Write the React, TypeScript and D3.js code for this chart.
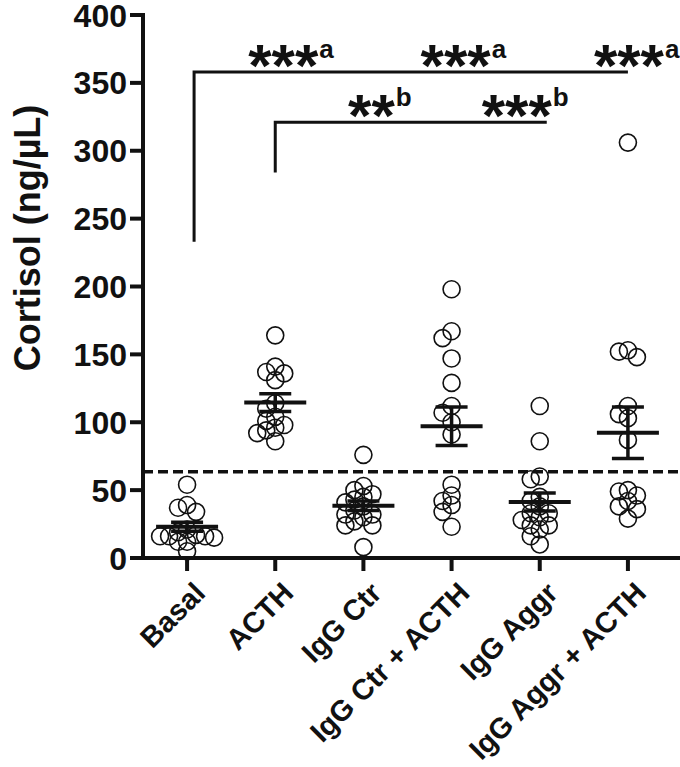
import React from 'react';
import * as d3 from 'd3';

const categories = ['Basal', 'ACTH', 'IgG Ctr', 'IgG Ctr + ACTH', 'IgG Aggr', 'IgG Aggr + ACTH'];
const basal = [54, 39, 37, 34, 21, 19, 17, 16, 16, 16, 15, 12, 12, 5];
const acth = [164, 141, 137, 136, 131, 114, 110, 104, 101, 98, 96, 94, 92, 86];
const iggCtr = [76, 53, 50, 47, 45, 43, 41, 38, 35, 32, 32, 30, 27, 24, 24, 8];
const iggCtrActh = [198, 167, 162, 147, 129, 112, 107, 100, 91, 54, 46, 42, 39, 34, 23];
const iggAggr = [112, 86, 60, 58, 45, 42, 38, 33, 33, 30, 28, 24, 24, 21, 16, 10];
const iggAggrActh = [306, 153, 152, 148, 112, 106, 103, 87, 50, 49, 46, 42, 38, 36, 29];
const groupValues = [basal, acth, iggCtr, iggCtrActh, iggAggr, iggAggrActh];
const means = [23, 114.5, 38.5, 97, 41.3, 92.3];
const sems = [3.3, 6.5, 3.5, 14.2, 6.6, 19];
const yTicks = [0, 50, 100, 150, 200, 250, 300, 350, 400];
const thresholdValue = 63.5;
const yTitle = 'Cortisol (ng/µL)';

const brackets = [
  { from: 'Basal', to: 'IgG Aggr + ACTH', level: 358, leg: 233 },
  { from: 'ACTH', to: 'IgG Aggr', level: 321, leg: 284 },
];
const sigMarks = [
  { group: 'ACTH', level: 358, stars: '***', sup: 'a', shift: 8 },
  { group: 'IgG Ctr + ACTH', level: 358, stars: '***', sup: 'a', shift: 4 },
  { group: 'IgG Aggr + ACTH', level: 358, stars: '***', sup: 'a', shift: 1 },
  { group: 'IgG Ctr', level: 321, stars: '**', sup: 'b', shift: 8 },
  { group: 'IgG Aggr', level: 321, stars: '***', sup: 'b', shift: -23 },
];

const W = 680;
const H = 767;
const FONT = '"Liberation Sans", Arial, Helvetica, sans-serif';
const INK = '#111';

const y = d3.scaleLinear().domain([0, 400]).range([558, 15]);
const x = d3.scaleBand<string>().domain(categories).range([143, 672]).padding(0);
const cx = (c: string) => (x(c) as number) + x.bandwidth() / 2;

function swarm(vals: number[], center: number) {
  const placed: { x: number; y: number }[] = [];
  const step = 9;
  const minD = 8.5;
  for (const v of vals) {
    const py = y(v);
    let best = { x: center, y: py };
    for (let k = 0; k < 30; k++) {
      const off = k === 0 ? 0 : (k % 2 ? -1 : 1) * Math.ceil(k / 2) * step;
      const px = center + off;
      if (placed.every((p) => Math.hypot(p.x - px, p.y - py) >= minD)) {
        best = { x: px, y: py };
        break;
      }
    }
    placed.push(best);
  }
  return placed;
}

export default function App() {
  const starSize = 60;
  const supSize = 26;
  return (
    <svg width={W} height={H} style={{ position: 'absolute', left: 0, top: 0, background: '#fff' }}>
      <rect x={0} y={0} width={W} height={H} fill="#fff" />
      {/* threshold dashed line */}
      <line
        x1={143}
        x2={680}
        y1={y(thresholdValue)}
        y2={y(thresholdValue)}
        stroke={INK}
        strokeWidth={3.5}
        strokeDasharray="10 5"
      />
      {/* points */}
      {groupValues.map((vals, gi) =>
        swarm(vals, cx(categories[gi])).map((p, i) => (
          <circle key={`${gi}-${i}`} cx={p.x} cy={p.y} r={8.5} fill="none" stroke={INK} strokeWidth={1.6} />
        ))
      )}
      {/* mean and SEM */}
      {categories.map((c, i) => {
        const X = cx(c);
        return (
          <g key={c} stroke={INK}>
            <line x1={X} x2={X} y1={y(means[i] + sems[i])} y2={y(means[i] - sems[i])} strokeWidth={3.5} />
            <line x1={X - 16} x2={X + 16} y1={y(means[i] + sems[i])} y2={y(means[i] + sems[i])} strokeWidth={3.5} />
            <line x1={X - 16} x2={X + 16} y1={y(means[i] - sems[i])} y2={y(means[i] - sems[i])} strokeWidth={3.5} />
            <line x1={X - 31} x2={X + 31} y1={y(means[i])} y2={y(means[i])} strokeWidth={4} />
          </g>
        );
      })}
      {/* axes */}
      <line x1={143} x2={143} y1={13} y2={560} stroke={INK} strokeWidth={4} />
      <line x1={141} x2={680} y1={558} y2={558} stroke={INK} strokeWidth={4} />
      {yTicks.map((t) => (
        <g key={t}>
          <line x1={130} x2={143} y1={y(t)} y2={y(t)} stroke={INK} strokeWidth={4} />
          <text
            x={127}
            y={y(t)}
            dy="0.36em"
            textAnchor="end"
            fontFamily={FONT}
            fontWeight="bold"
            fontSize={32}
            fill={INK}
          >
            {t}
          </text>
        </g>
      ))}
      {categories.map((c) => (
        <g key={c}>
          <line x1={cx(c)} x2={cx(c)} y1={558} y2={571} stroke={INK} strokeWidth={4} />
          <text
            transform={`translate(${cx(c) + 5},${580}) rotate(-45)`}
            dy="0.72em"
            textAnchor="end"
            fontFamily={FONT}
            fontWeight="bold"
            fontSize={29}
            fill={INK}
          >
            {c}
          </text>
        </g>
      ))}
      <text
        transform={`translate(${27},${238}) rotate(-90)`}
        dy="0.36em"
        textAnchor="middle"
        fontFamily={FONT}
        fontWeight="bold"
        fontSize={36}
        fill={INK}
      >
        {yTitle}
      </text>
      {/* significance brackets */}
      {brackets.map((b, i) => {
        const x1 = cx(b.from) + (i === 0 ? 7 : 0);
        const x2 = cx(b.to) + (i === 0 ? 0 : 7);
        return (
          <path
            key={i}
            d={`M${x1},${y(b.leg)}V${y(b.level)}H${x2}`}
            fill="none"
            stroke={INK}
            strokeWidth={3}
          />
        );
      })}
      {sigMarks.map((m, i) => {
        const X = cx(m.group) + m.shift;
        const starW = m.stars.length * 0.389 * starSize;
        const ly = y(m.level);
        const supRise = m.sup === 'b' ? 30 : 28;
        return (
          <text
            key={i}
            x={X - starW / 2}
            y={ly + 14}
            textAnchor="start"
            fontFamily={FONT}
            fontWeight="bold"
            fill={INK}
          >
            <tspan fontSize={starSize}>{m.stars}</tspan>
            <tspan fontSize={supSize} dx={1} dy={-supRise}>
              {m.sup}
            </tspan>
          </text>
        );
      })}
    </svg>
  );
}
